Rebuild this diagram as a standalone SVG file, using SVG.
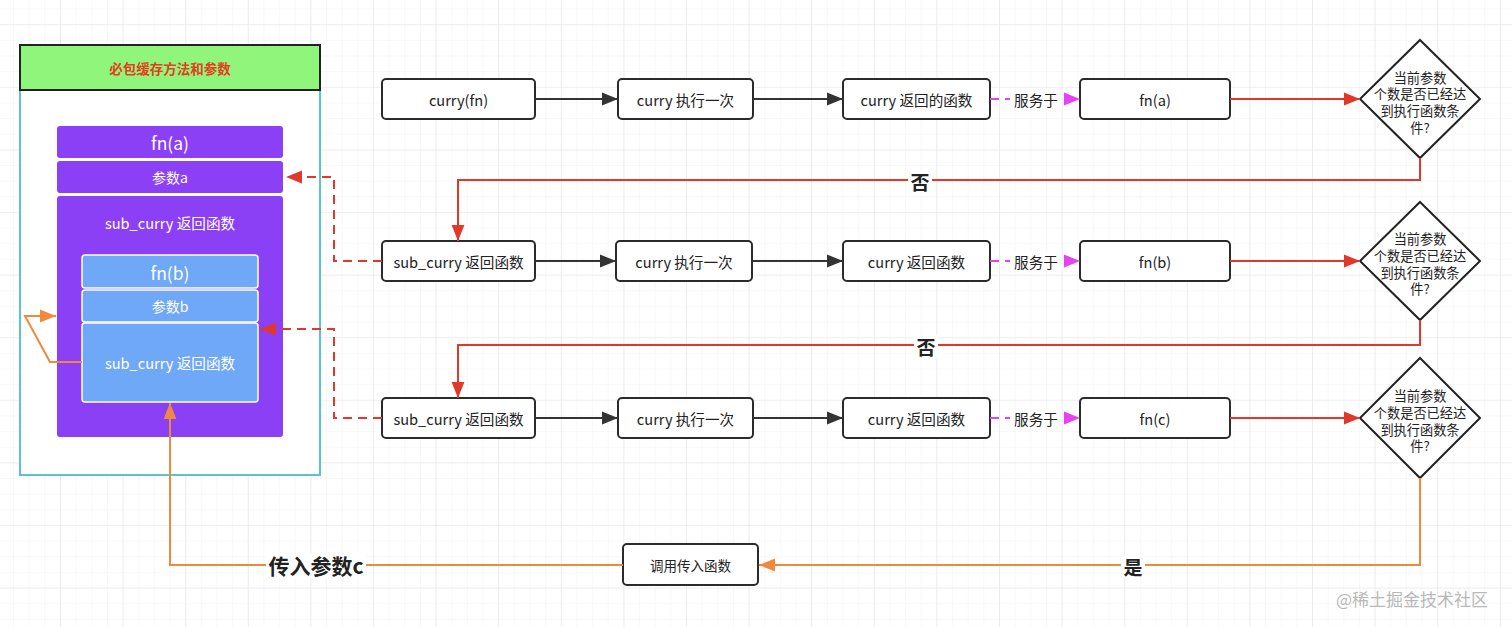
<svg xmlns="http://www.w3.org/2000/svg" width="1512" height="627" viewBox="0 0 1512 627">
<style>
text{font-family:"Noto Sans CJK SC","Noto Sans",sans-serif;text-anchor:middle;dominant-baseline:central}
.box{fill:#fff;stroke:#2b2b2b;stroke-width:2}
.t{font-size:14.6px;fill:#222}
.w{fill:#fff}
.blk{stroke:#333;stroke-width:2;fill:none}
.red{stroke:#e0392b;stroke-width:2;fill:none}
.redd{stroke:#e0392b;stroke-width:2;fill:none;stroke-dasharray:9 6}
.mag{stroke:#e543f2;stroke-width:2;fill:none;stroke-dasharray:9 6}
.org{stroke:#ef8a3c;stroke-width:2;fill:none}
.lbl{font-size:19px;font-weight:bold;fill:#222}
.big{font-size:21px}
.dtxt{font-size:13.2px;fill:#222}
</style>
<defs>
<pattern id="minor" x="13.05" y="8.55" width="15.65" height="15.65" patternUnits="userSpaceOnUse">
<path d="M0 0V15.65M0 0H15.65" stroke="#f1f1f3" stroke-width="1" fill="none"/>
</pattern>
<pattern id="major" x="-2.6" y="24.2" width="62.6" height="62.6" patternUnits="userSpaceOnUse">
<path d="M0 0V62.6M0 0H62.6" stroke="#e6e6ea" stroke-width="1.2" fill="none"/>
</pattern>
<marker id="aBlk" viewBox="0 0 10 10" refX="10" refY="5" markerWidth="16" markerHeight="16" markerUnits="userSpaceOnUse" orient="auto"><path d="M0 1L10 5L0 9z" fill="#333"/></marker>
<marker id="aRed" viewBox="0 0 10 10" refX="10" refY="5" markerWidth="16" markerHeight="16" markerUnits="userSpaceOnUse" orient="auto"><path d="M0 1L10 5L0 9z" fill="#e0392b"/></marker>
<marker id="aMag" viewBox="0 0 10 10" refX="10" refY="5" markerWidth="16" markerHeight="16" markerUnits="userSpaceOnUse" orient="auto"><path d="M0 1L10 5L0 9z" fill="#e543f2"/></marker>
<marker id="aOrg" viewBox="0 0 10 10" refX="10" refY="5" markerWidth="16" markerHeight="16" markerUnits="userSpaceOnUse" orient="auto"><path d="M0 1L10 5L0 9z" fill="#ef8a3c"/></marker>
</defs>
<rect width="1512" height="627" fill="#fff"/>
<rect width="1512" height="627" fill="url(#minor)"/>
<rect width="1512" height="627" fill="url(#major)"/>

<g id="container">
<rect x="20" y="90" width="300" height="385" fill="#fff" stroke="#5cc3c6" stroke-width="2"/>
<rect x="20" y="45" width="300" height="45" fill="#8ff57b" stroke="#222" stroke-width="2"/>
<text x="170" y="68" font-size="13.5" font-weight="bold" fill="#e2401f">必包缓存方法和参数</text>
</g>
<g id="stack-a">
<rect x="57" y="126" width="226" height="32" rx="3" fill="#8b40f5"/>
<text x="170" y="142" font-size="17.5" class="w">fn(a)</text>
<rect x="57" y="161" width="226" height="32" rx="3" fill="#8b40f5"/>
<text x="170" y="177" font-size="14" class="w">参数a</text>
<rect x="57" y="196" width="226" height="241" rx="3" fill="#8b40f5"/>
<text x="170" y="222" font-size="14.6" class="w">sub_curry 返回函数</text>
</g>
<g id="stack-b">
<rect x="82" y="255" width="176" height="33" rx="3" fill="#6fa8f6" stroke="#fff" stroke-width="1.5"/>
<text x="170" y="272" font-size="17.5" class="w">fn(b)</text>
<rect x="82" y="290" width="176" height="32" rx="3" fill="#6fa8f6" stroke="#fff" stroke-width="1.5"/>
<text x="170" y="306" font-size="14" class="w">参数b</text>
<rect x="82" y="323" width="176" height="79" rx="3" fill="#6fa8f6" stroke="#fff" stroke-width="1.5"/>
<text x="170" y="362" font-size="14.6" class="w">sub_curry 返回函数</text>
</g>

<g id="row1">
<rect class="box" x="382" y="79" width="153" height="40" rx="4"/><text class="t" x="458.5" y="99">curry(fn)</text>
<rect class="box" x="618" y="79" width="135" height="40" rx="4"/><text class="t" x="685.5" y="99">curry 执行一次</text>
<rect class="box" x="843" y="79" width="147" height="40" rx="4"/><text class="t" x="916.5" y="99">curry 返回的函数</text>
<rect class="box" x="1080" y="79" width="150" height="40" rx="4"/><text class="t" x="1155" y="99">fn(a)</text>
</g>
<g id="diamond1">
<polygon points="1420,40 1480,99 1420,158 1360,99" fill="#fff" stroke="#222" stroke-width="2"/>
<text class="dtxt" x="1420" y="77">当前参数</text><text class="dtxt" x="1420" y="93">个数是否已经达</text><text class="dtxt" x="1420" y="110">到执行函数条</text><text class="dtxt" x="1420" y="127">件?</text>
</g>
<g id="row2">
<rect class="box" x="382" y="241" width="153" height="40" rx="4"/><text class="t" x="458.5" y="261">sub_curry 返回函数</text>
<rect class="box" x="616" y="241" width="136" height="40" rx="4"/><text class="t" x="684" y="261">curry 执行一次</text>
<rect class="box" x="843" y="241" width="147" height="40" rx="4"/><text class="t" x="916.5" y="261">curry 返回函数</text>
<rect class="box" x="1080" y="241" width="150" height="40" rx="4"/><text class="t" x="1155" y="261">fn(b)</text>
</g>
<g id="diamond2">
<polygon points="1420,202 1480,261 1420,320 1360,261" fill="#fff" stroke="#222" stroke-width="2"/>
<text class="dtxt" x="1420" y="238">当前参数</text><text class="dtxt" x="1420" y="255">个数是否已经达</text><text class="dtxt" x="1420" y="272">到执行函数条</text><text class="dtxt" x="1420" y="288">件?</text>
</g>
<g id="row3">
<rect class="box" x="382" y="398" width="153" height="40" rx="4"/><text class="t" x="458.5" y="418">sub_curry 返回函数</text>
<rect class="box" x="618" y="398" width="135" height="40" rx="4"/><text class="t" x="685.5" y="418">curry 执行一次</text>
<rect class="box" x="843" y="398" width="147" height="40" rx="4"/><text class="t" x="916.5" y="418">curry 返回函数</text>
<rect class="box" x="1080" y="398" width="150" height="40" rx="4"/><text class="t" x="1155" y="418">fn(c)</text>
</g>
<g id="diamond3">
<polygon points="1420,358 1480,418 1420,478 1360,418" fill="#fff" stroke="#222" stroke-width="2"/>
<text class="dtxt" x="1420" y="395">当前参数</text><text class="dtxt" x="1420" y="412">个数是否已经达</text><text class="dtxt" x="1420" y="429">到执行函数条</text><text class="dtxt" x="1420" y="445">件?</text>
</g>
<g id="call">
<rect class="box" x="623" y="544" width="135" height="41" rx="4"/><text x="690.5" y="564.5" font-size="13.5" fill="#222">调用传入函数</text>
</g>

<g id="connectors">
<path class="blk" d="M535 99H618" marker-end="url(#aBlk)"/>
<path class="blk" d="M753 99H843" marker-end="url(#aBlk)"/>
<path class="mag" d="M990 99H1080" marker-end="url(#aMag)"/>
<path class="red" d="M1230 99H1360" marker-end="url(#aRed)"/>
<path class="red" d="M1420 158V180H458V241" marker-end="url(#aRed)"/>
<path class="blk" d="M535 261H616" marker-end="url(#aBlk)"/>
<path class="blk" d="M752 261H843" marker-end="url(#aBlk)"/>
<path class="mag" d="M990 261H1080" marker-end="url(#aMag)"/>
<path class="red" d="M1230 261H1360" marker-end="url(#aRed)"/>
<path class="red" d="M1420 320V345H458V398" marker-end="url(#aRed)"/>
<path class="blk" d="M535 418H618" marker-end="url(#aBlk)"/>
<path class="blk" d="M753 418H843" marker-end="url(#aBlk)"/>
<path class="mag" d="M990 418H1080" marker-end="url(#aMag)"/>
<path class="red" d="M1230 418H1360" marker-end="url(#aRed)"/>
<path class="redd" d="M382 261H334V177H286" marker-end="url(#aRed)"/>
<path class="redd" d="M382 418H334V329H260" marker-end="url(#aRed)"/>
<path class="org" d="M1420 478V565H759" marker-end="url(#aOrg)"/>
<path class="org" d="M623 565H170V403" marker-end="url(#aOrg)"/>
<path class="org" d="M82 362H50L25 316H56" marker-end="url(#aOrg)"/>
<rect x="1010" y="90" width="52" height="18" fill="#fff"/>
<text x="1036" y="99" font-size="14.6" fill="#222">服务于</text>
<rect x="1010" y="252" width="52" height="18" fill="#fff"/>
<text x="1036" y="261" font-size="14.6" fill="#222">服务于</text>
<rect x="1010" y="409" width="52" height="18" fill="#fff"/>
<text x="1036" y="418" font-size="14.6" fill="#222">服务于</text>
<rect x="908" y="170" width="24" height="22" fill="#fff"/>
<text class="lbl" x="920" y="181">否</text>
<rect x="914" y="335" width="24" height="22" fill="#fff"/>
<text class="lbl" x="926" y="346">否</text>
<rect x="1121" y="555" width="24" height="22" fill="#fff"/>
<text class="lbl" x="1133" y="566">是</text>
<rect x="266" y="553" width="100" height="25" fill="#fff"/>
<text class="lbl big" x="316" y="565">传入参数c</text>
</g>
<text x="1412" y="598" font-size="17" fill="#b8b8b8">@稀土掘金技术社区</text>
</svg>
